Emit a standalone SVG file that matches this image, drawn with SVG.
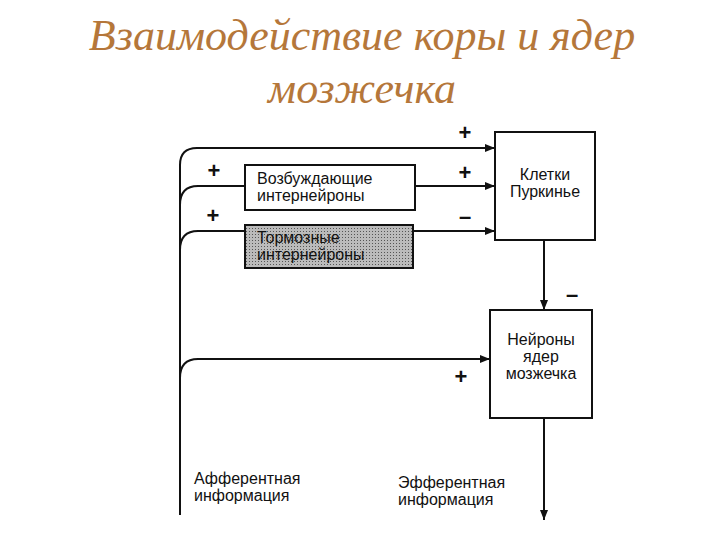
<svg xmlns="http://www.w3.org/2000/svg" width="720" height="540" viewBox="0 0 720 540">
<style>
.t{font-family:"Liberation Serif",serif;font-style:italic;font-size:44px;fill:#b5773a;text-anchor:middle}
.l{font-family:"Liberation Sans",Arial,sans-serif;font-size:16px;fill:#111}
.c{text-anchor:middle}
.s{font-family:"Liberation Sans",sans-serif;font-size:22px;font-weight:bold;fill:#111;text-anchor:middle}
.b{fill:#fff;stroke:#111;stroke-width:2}
.w{fill:none;stroke:#111;stroke-width:2}
</style>
<defs>
<marker id="a" markerWidth="10" markerHeight="8" refX="10" refY="4" orient="auto" markerUnits="userSpaceOnUse"><path d="M0,0L10,4L0,8z" fill="#111"/></marker>
<pattern id="h" width="3" height="3" patternUnits="userSpaceOnUse"><rect width="3" height="3" fill="#bbb"/><rect width="1" height="1" fill="#555"/></pattern>
</defs>
<rect width="720" height="540" fill="#fff"/>
<text class="t" x="362" y="50">Взаимодействие коры и ядер</text>
<text class="t" x="362" y="103">мозжечка</text>
<g id="connectors">
<path class="w" d="M180,515V165Q180,148 197,148H495" marker-end="url(#a)"/>
<path class="w" d="M180,205Q180,186 198,186H245"/>
<path class="w" d="M415,186H495" marker-end="url(#a)"/>
<path class="w" d="M180,250Q180,231 198,231H245"/>
<path class="w" d="M413,231H495" marker-end="url(#a)"/>
<path class="w" d="M544,240V310" marker-end="url(#a)"/>
<path class="w" d="M180,378Q180,359 198,359H490" marker-end="url(#a)"/>
<path class="w" d="M544,418V520" marker-end="url(#a)"/>
</g>
<g id="signs">
<text class="s" x="465" y="140">+</text>
<text class="s" x="214" y="178">+</text>
<text class="s" x="465" y="180">+</text>
<text class="s" x="213" y="223">+</text>
<text class="s" x="465" y="224">–</text>
<text class="s" x="572" y="302">–</text>
<text class="s" x="461" y="384">+</text>
</g>
<g id="excit"><rect class="b" x="245" y="165" width="170" height="45"/>
<text class="l" x="257" y="184">Возбуждающие</text><text class="l" x="257" y="201">интернейроны</text></g>
<g id="inhib"><rect x="245" y="225" width="168" height="43" fill="url(#h)" stroke="#111" stroke-width="2"/>
<text class="l" x="257" y="243" fill="#333">Тормозные</text><text class="l" x="257" y="260" fill="#333">интернейроны</text></g>
<g id="purkinje"><rect class="b" x="495" y="132" width="100" height="108"/>
<text class="l c" x="545" y="180">Клетки</text><text class="l c" x="545" y="197">Пуркинье</text></g>
<g id="nuclei"><rect class="b" x="490" y="310" width="102" height="108"/>
<text class="l c" x="541" y="345">Нейроны</text><text class="l c" x="541" y="362">ядер</text><text class="l c" x="541" y="379">мозжечка</text></g>
<g id="labels">
<text class="l" x="194" y="484">Афферентная</text><text class="l" x="194" y="501">информация</text>
<text class="l" x="398" y="488">Эфферентная</text><text class="l" x="398" y="505">информация</text>
</g>
</svg>
